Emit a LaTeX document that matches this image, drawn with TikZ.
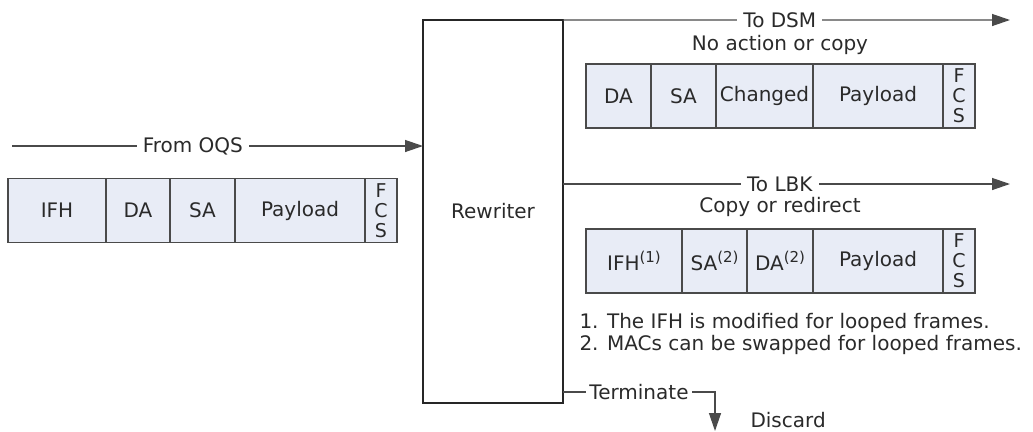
\documentclass[tikz,border=0pt]{standalone}
\usepackage{fontspec}
\setmainfont{DejaVu Sans}
\usetikzlibrary{arrows.meta, positioning}
\definecolor{framefill}{HTML}{E8ECF6}
\definecolor{linegray}{HTML}{4A4A4A}
\definecolor{textgray}{HTML}{2A2A2A}
\newcommand{\refmark}[1]{\raisebox{0.42em}{\fontsize{15bp}{15bp}\selectfont(#1)}}

\begin{document}
\begin{tikzpicture}[x=1bp, y=-1bp,
    >={Triangle[length=18bp, width=12bp]},
    every node/.style={font=\fontsize{20bp}{22bp}\selectfont, text=textgray},
    cell/.style ={draw=linegray, line width=1.2bp, fill=framefill,
                  minimum height=64bp, inner sep=0pt, outer sep=0pt, anchor=west},
    fcs/.style  ={cell, minimum width=32bp, align=center,
                  font=\fontsize{19bp}{20bp}\selectfont},
    block/.style={draw=black!85, line width=2bp, minimum width=140bp,
                  minimum height=383bp, inner sep=0pt, outer sep=0pt},
    lbl/.style  ={fill=white, inner sep=6bp},
    flow/.style ={->, draw=linegray, line width=1.3bp}
  ]
  \useasboundingbox (0,0) rectangle (1033,431);

  %% --- Rewriter block ---------------------------------------------------
  \node[block] (rw) at (493,211.5) {Rewriter};

  %% --- Incoming frame from OQS ------------------------------------------
  \coordinate (oqs) at (12,146);
  \draw[flow] (oqs) -- node[lbl, pos=0.44] {From OQS} (oqs -| rw.west);

  \node[cell, minimum width=98bp] (ifh) at (8,210.5) {IFH};
  \node[cell, minimum width=64bp, right=0pt of ifh] (da) {DA};
  \node[cell, minimum width=65bp, right=0pt of da] (sa) {SA};
  \node[cell, minimum width=130bp, right=0pt of sa] (pay) {Payload};
  \node[fcs, right=0pt of pay] (fcs) {F\\C\\S};

  %% --- Output to DSM ----------------------------------------------------
  \coordinate (dsm) at (1010,20);
  \draw[flow] (rw.north east) -- node[lbl, pos=0.485] {To DSM} (dsm);
  \node (dsmnote) at (780,45) {No action or copy};

  \node[cell, minimum width=65bp] (dsmda) at (586,96) {DA};
  \node[cell, minimum width=65bp, right=0pt of dsmda] (dsmsa) {SA};
  \node[cell, minimum width=97bp, right=0pt of dsmsa] (dsmch) {Changed};
  \node[cell, minimum width=130bp, right=0pt of dsmch] (dsmpay) {Payload};
  \node[fcs, right=0pt of dsmpay] (dsmfcs) {F\\C\\S};

  %% --- Output to LBK ----------------------------------------------------
  \coordinate (lbk) at (1010,184);
  \draw[flow] (rw.east |- lbk) -- node[lbl, pos=0.485] {To LBK} (lbk);
  \node (lbknote) at (780,207) {Copy or redirect};

  \node[cell, minimum width=96bp] (lbkifh) at (586,261) {IFH\refmark{1}};
  \node[cell, minimum width=65bp, right=0pt of lbkifh] (lbksa) {SA\refmark{2}};
  \node[cell, minimum width=66bp, right=0pt of lbksa] (lbkda) {DA\refmark{2}};
  \node[cell, minimum width=130bp, right=0pt of lbkda] (lbkpay) {Payload};
  \node[fcs, right=0pt of lbkpay] (lbkfcs) {F\\C\\S};

  %% --- Footnotes --------------------------------------------------------
  \node[anchor=west] (fn1) at (576,323) {1. The IFH is modified for looped frames.};
  \node[anchor=west] (fn2) at (576,345) {2. MACs can be swapped for looped frames.};

  %% --- Terminate / discard ----------------------------------------------
  \coordinate (term) at (715,392);
  \coordinate (discard) at (715,431);
  \draw[flow] (rw.east |- term) -- node[lbl, inner sep=3bp] {Terminate} (term) -- (discard);
  \node[anchor=west] (disc) at (747,420) {Discard};
\end{tikzpicture}
\end{document}
